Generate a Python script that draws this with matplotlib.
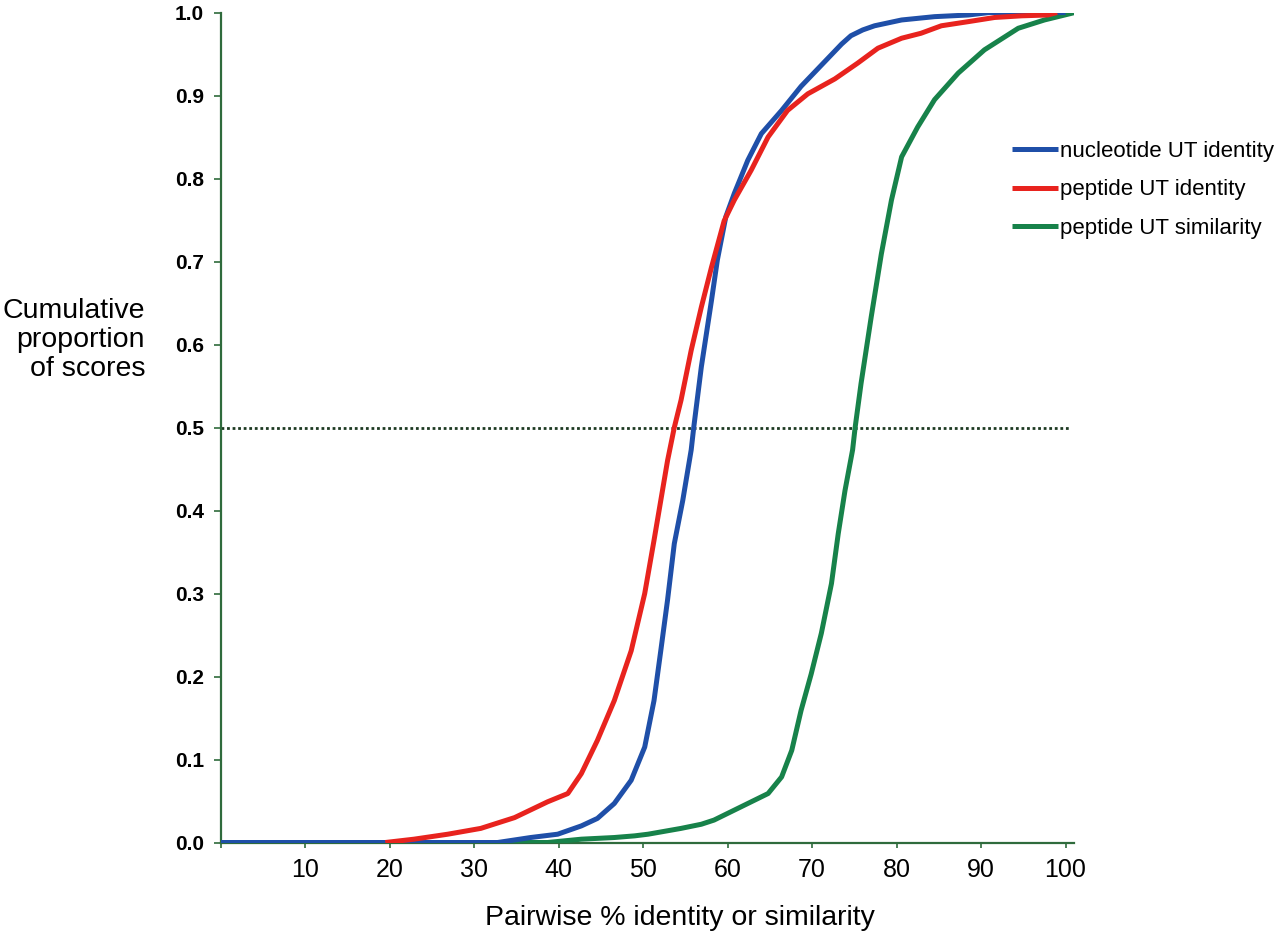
import matplotlib
matplotlib.use("Agg")
import matplotlib.pyplot as plt
import numpy as np

# ---- data ----
nuc_x = [0, 32.8, 36.7, 39.9, 42.7, 44.6, 46.6, 48.6, 50.2, 51.3, 52.1, 52.9, 53.7, 54.7, 55.7, 56.0,
         56.9, 58.1, 58.8, 59.8, 60.8, 62.4, 64.0, 66.4, 68.7, 71.9, 73.5, 74.6, 76.0, 77.4, 80.6, 84.5, 88.5, 91.0, 100.0]
nuc_y = [0, 0.0, 0.006, 0.010, 0.020, 0.029, 0.047, 0.075, 0.115, 0.171, 0.231, 0.292, 0.360, 0.412, 0.473, 0.50,
         0.573, 0.653, 0.702, 0.754, 0.782, 0.822, 0.854, 0.882, 0.911, 0.945, 0.962, 0.972, 0.979, 0.984, 0.991, 0.995, 0.997, 1.0, 1.0]

pep_id_x = [19.5, 22.9, 26.9, 30.8, 34.8, 38.7, 41.1, 42.7, 44.6, 46.6, 48.6, 50.2, 51.3, 52.1, 52.9, 53.7,
            54.5, 55.7, 56.9, 58.1, 59.6, 60.8, 62.8, 64.8, 67.1, 69.5, 72.7, 75.4, 77.8, 80.6, 82.9, 85.3,
            88.5, 91.6, 94.8, 97.9, 99.0]
pep_id_y = [0.0, 0.004, 0.010, 0.017, 0.030, 0.049, 0.059, 0.083, 0.123, 0.171, 0.231, 0.300, 0.364, 0.412, 0.460, 0.50,
            0.533, 0.593, 0.645, 0.693, 0.749, 0.774, 0.810, 0.850, 0.882, 0.902, 0.920, 0.939, 0.957, 0.969, 0.975, 0.984,
            0.989, 0.994, 0.996, 0.997, 1.0]

pep_sim_x = [0, 38.7, 42.7, 46.6, 49.0, 50.6, 54.5, 56.9, 58.4, 62.0, 64.8, 66.4, 67.6, 68.7, 69.9, 71.1, 72.3,
             73.1, 73.9, 74.8, 75.1, 75.8, 77.0, 78.2, 79.4, 80.6, 82.5, 84.5, 87.3, 90.4, 94.4, 97.5, 101.1]
pep_sim_y = [0, 0.0, 0.004, 0.006, 0.008, 0.010, 0.017, 0.022, 0.027, 0.045, 0.059, 0.079, 0.111, 0.159, 0.203, 0.252, 0.312,
             0.372, 0.424, 0.473, 0.50, 0.553, 0.633, 0.709, 0.774, 0.826, 0.862, 0.895, 0.927, 0.955, 0.981, 0.991, 1.0]

series_labels = ["nucleotide UT identity", "peptide UT identity", "peptide UT similarity"]
series_colors = ["#1f4fa8", "#e8231e", "#17824a"]
x_ticks = [10, 20, 30, 40, 50, 60, 70, 80, 90, 100]
y_ticks = [0.0, 0.1, 0.2, 0.3, 0.4, 0.5, 0.6, 0.7, 0.8, 0.9, 1.0]
median_level = 0.5

axis_color = "#2f6b3c"
sans = ["Liberation Sans", "DejaVu Sans"]

fig = plt.figure(figsize=(12.8, 9.36), dpi=100)
ax = fig.add_axes([220.5 / 1280, 1 - 842.5 / 936, (1074 - 220.5) / 1280, (842.5 - 12.5) / 936])

ax.plot([0, 100.7], [median_level, median_level], linestyle=(0, (1, 1)), color="#1d3a22", lw=2.0, zorder=1)

lines = []
for xs, ys, c, lab in [(pep_sim_x, pep_sim_y, series_colors[2], series_labels[2]),
                       (nuc_x, nuc_y, series_colors[0], series_labels[0]),
                       (pep_id_x, pep_id_y, series_colors[1], series_labels[1])]:
    ln, = ax.plot(xs, ys, color=c, lw=3.6, solid_capstyle="butt", solid_joinstyle="round", label=lab, zorder=3)
    lines.append(ln)

ax.set_xlim(0, 101.0)
ax.set_ylim(0, 1.0)
for s in ["top", "right"]:
    ax.spines[s].set_visible(False)
for s in ["left", "bottom"]:
    ax.spines[s].set_color(axis_color)
    ax.spines[s].set_linewidth(1.6)
ax.spines["bottom"].set_zorder(2)

ax.set_xticks([0] + x_ticks)
ax.set_xticklabels([""] + [str(v) for v in x_ticks])
ax.set_yticks(y_ticks)
ax.set_yticklabels([f"{v:.1f}" for v in y_ticks])
ax.tick_params(axis="x", direction="out", length=3.5, width=1.2, color=axis_color, pad=8)
ax.tick_params(axis="y", direction="out", length=5, width=1.2, color=axis_color, pad=7)
for t in ax.get_xticklabels():
    t.set_fontfamily(sans)
    t.set_fontsize(18)
for t in ax.get_yticklabels():
    t.set_fontfamily(sans)
    t.set_fontsize(15)
    t.set_fontweight("bold")

fig.text(145 / 1280, 1 - 340 / 936, "Cumulative\nproportion\nof scores", ha="right", va="center",
         fontsize=20.5, family=sans, linespacing=1.15)
fig.text(680 / 1280, 1 - 918 / 936, "Pairwise % identity or similarity", ha="center", va="center",
         fontsize=20.5, family=sans)

handles = [lines[1], lines[2], lines[0]]
leg = fig.legend(handles, [h.get_label() for h in handles], loc="upper left",
                 bbox_to_anchor=(1012 / 1280, 1 - 141 / 936), frameon=False,
                 prop={"family": sans, "size": 16}, handlelength=2.05, handletextpad=0.12,
                 labelspacing=0.78, borderaxespad=0, borderpad=0)

fig.savefig("out.png", dpi=100, facecolor="white")
